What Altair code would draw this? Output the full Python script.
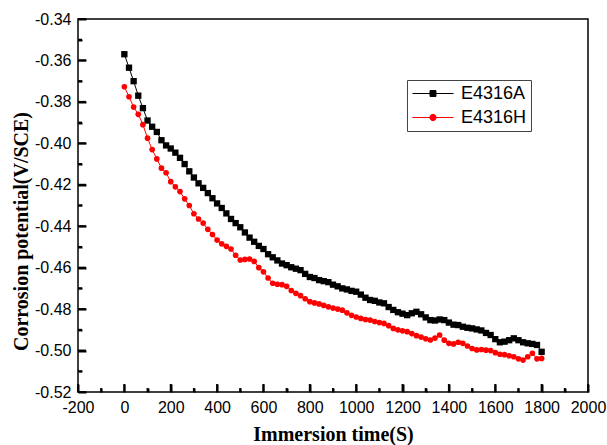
import altair as alt
import pandas as pd

# ---- data ----
time_s = list(range(0, 1801, 20))

e4316a = [
    -0.3570, -0.3635, -0.3700, -0.3770, -0.3830, -0.3890, -0.3920, -0.3945, -0.3985, -0.4010,
    -0.4025, -0.4045, -0.4070, -0.4100, -0.4135, -0.4165, -0.4193, -0.4215, -0.4240, -0.4265,
    -0.4290, -0.4312, -0.4338, -0.4365, -0.4385, -0.4405, -0.4430, -0.4455, -0.4475, -0.4495,
    -0.4510, -0.4535, -0.4550, -0.4565, -0.4580, -0.4588, -0.4598, -0.4605, -0.4612, -0.4630,
    -0.4645, -0.4650, -0.4660, -0.4665, -0.4670, -0.4682, -0.4690, -0.4700, -0.4705, -0.4712,
    -0.4716, -0.4730, -0.4745, -0.4756, -0.4760, -0.4768, -0.4772, -0.4790, -0.4804, -0.4815,
    -0.4822, -0.4829, -0.4820, -0.4813, -0.4825, -0.4840, -0.4853, -0.4855, -0.4850, -0.4853,
    -0.4865, -0.4875, -0.4877, -0.4885, -0.4890, -0.4893, -0.4898, -0.4903, -0.4915, -0.4925,
    -0.4945, -0.4960, -0.4957, -0.4950, -0.4941, -0.4950, -0.4960, -0.4965, -0.4968, -0.4973,
    -0.5006,
]

e4316h = [
    -0.3727, -0.3775, -0.3825, -0.3860, -0.3910, -0.3975, -0.4030, -0.4075, -0.4120, -0.4142,
    -0.4185, -0.4210, -0.4233, -0.4268, -0.4300, -0.4340, -0.4365, -0.4385, -0.4415, -0.4440,
    -0.4467, -0.4485, -0.4497, -0.4510, -0.4540, -0.4563, -0.4560, -0.4558, -0.4570, -0.4600,
    -0.4620, -0.4650, -0.4675, -0.4680, -0.4682, -0.4690, -0.4710, -0.4724, -0.4735, -0.4750,
    -0.4764, -0.4770, -0.4775, -0.4782, -0.4789, -0.4795, -0.4800, -0.4805, -0.4818, -0.4830,
    -0.4838, -0.4845, -0.4850, -0.4853, -0.4860, -0.4865, -0.4869, -0.4880, -0.4893, -0.4900,
    -0.4905, -0.4909, -0.4918, -0.4928, -0.4935, -0.4943, -0.4949, -0.4940, -0.4925, -0.4950,
    -0.4965, -0.4968, -0.4960, -0.4965, -0.4978, -0.4990, -0.4997, -0.4995, -0.4998, -0.5000,
    -0.5010, -0.5018, -0.5020, -0.5025, -0.5030, -0.5040, -0.5046, -0.5030, -0.5013, -0.5040,
    -0.5038,
]

series_names = ["E4316A", "E4316H"]
series_colors = ["#000000", "#ff0000"]

x_major = [-200, 0, 200, 400, 600, 800, 1000, 1200, 1400, 1600, 1800, 2000]
x_minor = [-100, 100, 300, 500, 700, 900, 1100, 1300, 1500, 1700, 1900]
y_major = [-0.52, -0.50, -0.48, -0.46, -0.44, -0.42, -0.40, -0.38, -0.36, -0.34]
y_minor = [-0.51, -0.49, -0.47, -0.45, -0.43, -0.41, -0.39, -0.37, -0.35]

# ---- tables ----
df = pd.concat([
    pd.DataFrame({"t": time_s, "v": e4316a, "series": series_names[0]}),
    pd.DataFrame({"t": time_s, "v": e4316h, "series": series_names[1]}),
], ignore_index=True)
xmajor_df = pd.DataFrame({"t": x_major})
ymajor_df = pd.DataFrame({"v": y_major})
xminor_df = pd.DataFrame({"t": x_minor})
yminor_df = pd.DataFrame({"v": y_minor})

W, H = 510, 373
MAJ, MIN = 8, 4

xs = alt.Scale(domain=[-200, 2000], nice=False, zero=False)
ys = alt.Scale(domain=[-0.52, -0.34], nice=False, zero=False)

fix_minus = "replace(datum.label, '\u2212', '-')"

# major ticks point inward: the axis is shifted inside by its tick length
x_axis = alt.Axis(
    orient="bottom", values=x_major, format="d", labelExpr=fix_minus, domain=False,
    ticks=True, tickSize=MAJ, tickWidth=2, tickColor="black", offset=-MAJ,
    grid=False, labelFont="Liberation Sans", labelFontSize=16, labelColor="black",
    labelPadding=7, labelFlush=False, labelOverlap=False,
    title="Immersion time(S)", titleFont="Liberation Serif", titleFontSize=20,
    titleFontWeight="bold", titleColor="black", titleX=255, titleY=42 + MAJ,
    titleBaseline="middle", titleAlign="center",
)
y_axis = alt.Axis(
    orient="left", values=y_major, format=".2f", labelExpr=fix_minus, domain=False,
    ticks=True, tickSize=MAJ, tickWidth=2, tickColor="black", offset=-MAJ,
    grid=False, labelFont="Liberation Sans", labelFontSize=16, labelColor="black",
    labelPadding=7, labelFlush=False, labelOverlap=False,
    title="Corrosion potential(V/SCE)", titleFont="Liberation Serif", titleFontSize=20,
    titleFontWeight="bold", titleColor="black", titleX=-57 - MAJ, titleY=212,
    titleBaseline="middle", titleAlign="center", titleAngle=-90,
)
x_minor_axis = alt.Axis(
    orient="bottom", values=x_minor, labels=False, title=None, domain=False, grid=False,
    ticks=True, tickSize=MIN, tickWidth=2, tickColor="black", offset=-MIN,
)
y_minor_axis = alt.Axis(
    orient="left", values=y_minor, labels=False, title=None, domain=False, grid=False,
    ticks=True, tickSize=MIN, tickWidth=2, tickColor="black", offset=-MIN,
)

color_dom = alt.Scale(domain=series_names, range=series_colors)
# legend symbols: a line with the series marker in the middle
shape_paths = [
    "M-2.28,0H2.28M-0.33,-0.33H0.33V0.33H-0.33Z",
    "M-2.28,0H2.28M0.35,0A0.35,0.35,0,1,1,-0.35,0A0.35,0.35,0,1,1,0.35,0Z",
]

leg = alt.Legend(
    title=None, orient="none", legendX=329, legendY=61,
    labelFont="Liberation Sans", labelFontSize=18, labelColor="black",
    symbolSize=324, symbolStrokeWidth=1, symbolOpacity=1, symbolOffset=12.5,
    labelOffset=18.5, padding=4, rowPadding=5, strokeColor="#444444",
)

lines = alt.Chart(df).mark_line(strokeWidth=1).encode(
    x=alt.X("t:Q", scale=xs, axis=x_axis),
    y=alt.Y("v:Q", scale=ys, axis=y_axis),
    stroke=alt.Stroke("series:N", scale=color_dom, legend=leg),
)

Xn = alt.X("t:Q", scale=xs, axis=None)
Yn = alt.Y("v:Q", scale=ys, axis=None)

pts_a = alt.Chart(df).transform_filter(
    alt.datum.series == series_names[0]
).mark_point(shape="square", filled=True, size=40, opacity=1).encode(
    x=Xn, y=Yn, fill=alt.Fill("series:N", scale=color_dom, legend=leg),
)
pts_h = alt.Chart(df).transform_filter(
    alt.datum.series == series_names[1]
).mark_point(shape="circle", filled=True, size=32, opacity=1).encode(
    x=Xn, y=Yn, fill=alt.Fill("series:N", scale=color_dom, legend=leg),
)

# legend-only layer (no visible rows); gives the line + marker symbols
legend_layer = alt.Chart(df).transform_filter("false").mark_point(
    filled=True, strokeWidth=1
).encode(
    x=Xn, y=Yn,
    shape=alt.Shape("series:N", scale=alt.Scale(domain=series_names, range=shape_paths), legend=leg),
)

# minor ticks (inward), carried by invisible layers with their own axes
minor_x = alt.Chart(xminor_df).mark_point(opacity=0).encode(
    x=alt.X("t:Q", scale=xs, axis=x_minor_axis))
minor_y = alt.Chart(yminor_df).mark_point(opacity=0).encode(
    y=alt.Y("v:Q", scale=ys, axis=y_minor_axis))

# the same inward ticks also drawn as rules through the scales
def xticks(frame, length):
    return alt.Chart(frame).mark_rule(color="black", strokeWidth=2).encode(
        x=Xn, y=alt.value(H), y2=alt.value(H - length))

def yticks(frame, length):
    return alt.Chart(frame).mark_rule(color="black", strokeWidth=2).encode(
        y=Yn, x=alt.value(0), x2=alt.value(length))

chart = alt.layer(
    lines, pts_a, pts_h, legend_layer, minor_x, minor_y,
    xticks(xmajor_df, MAJ), xticks(xminor_df, MIN),
    yticks(ymajor_df, MAJ), yticks(yminor_df, MIN),
).resolve_axis(
    x="independent", y="independent"
).properties(
    width=W, height=H,
    autosize=alt.AutoSizeParams(type="none"),
    padding={"left": 78, "top": 19, "right": 19, "bottom": 53},
    background="white",
).configure_view(stroke="black", strokeWidth=1.5)

chart.save("out.html", embed_options={"renderer": "svg", "actions": False})
